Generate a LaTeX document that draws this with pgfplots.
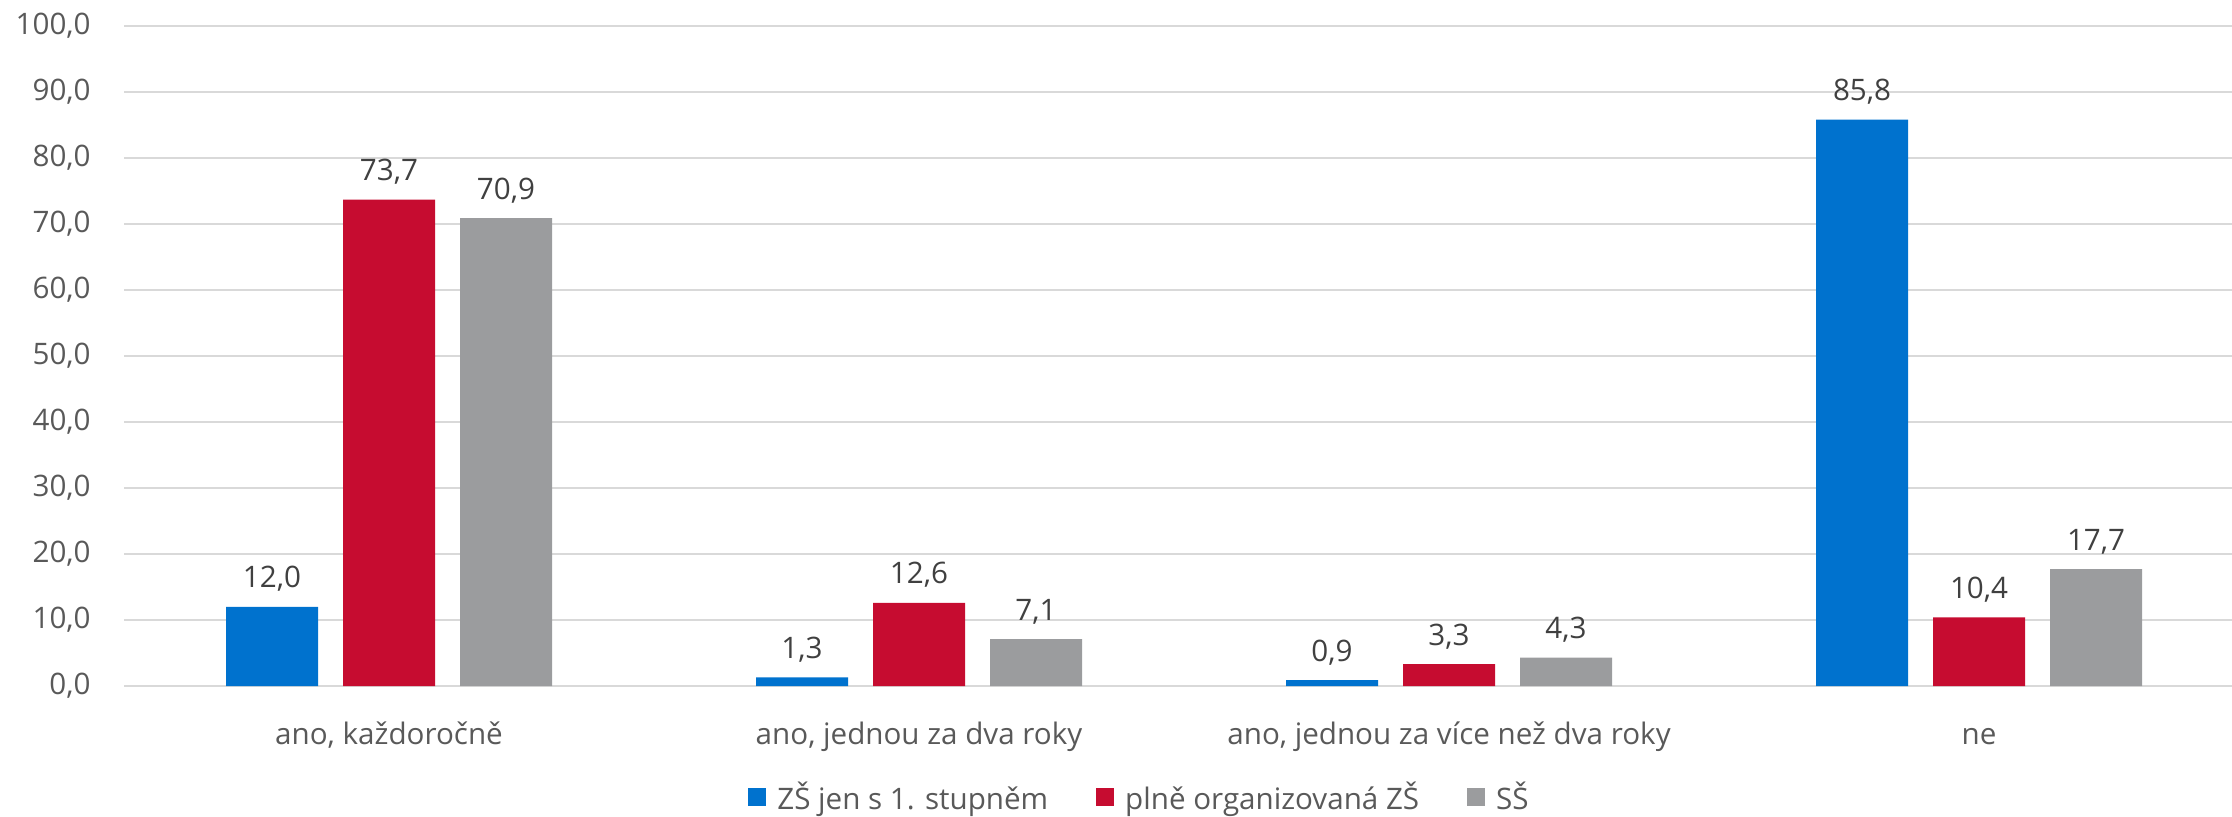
\documentclass[border=0pt]{standalone}
\usepackage{pgfplots}
\pgfplotsset{compat=1.18}
\usepackage{fontspec}
\setmainfont{Open Sans}
\definecolor{cBlue}{RGB}{0,114,206}
\definecolor{cRed}{RGB}{198,12,48}
\definecolor{cGray}{RGB}{155,156,158}
\definecolor{cGrid}{RGB}{217,217,217}
\definecolor{cTick}{RGB}{89,89,89}
\definecolor{cVal}{RGB}{64,64,64}
\newcommand\fs{\fontsize{14.8pt}{17pt}\selectfont}
\begin{document}
\begin{tikzpicture}
\begin{axis}[
  at={(62pt,65pt)}, anchor=south west,
  scale only axis, width=1054pt, height=330pt,
  xmin=-0.5, xmax=3.4774, ymin=0, ymax=100,
  enlargelimits=false,
  ybar=12.5pt, bar width=46pt,
  xtick={0,1,2,3},
  xticklabels={ano{,} každoročně, ano{,} jednou za dva roky, ano{,} jednou za více než dva roky, ne},
  ytick={0,10,...,100},
  ymajorgrids, grid style={cGrid, line width=1pt},
  axis line style={draw=none},
  major tick length=0pt,
  tick label style={font=\fs, text=cTick},
  /pgf/number format/fixed,
  /pgf/number format/fixed zerofill,
  /pgf/number format/precision=1,
  /pgf/number format/use comma,
  /pgf/number format/assume math mode=true,
  yticklabel style={anchor=east, inner sep=0pt, xshift=-16.5pt},
  xticklabel style={anchor=base, inner sep=0pt, yshift=-29pt},
  nodes near coords,
  every node near coord/.append style={font=\fs, text=cVal, anchor=base, inner sep=0pt, yshift=9.5pt},
  legend columns=3,
  legend style={at={(0.2960,-0.1682)}, anchor=west, draw=none, fill=none, inner sep=0pt,
    font=\fs, text=cTick,
    /tikz/every odd column/.append style={column sep=5.5pt},
    /tikz/every even column/.append style={column sep=24pt},
    nodes={inner sep=0pt}},
  legend image code/.code={\draw[#1, draw=none] (0pt,-4.5pt) rectangle (9pt,4.5pt);},
]
\addplot[fill=cBlue, draw=none] coordinates {(0,12.0) (1,1.3) (2,0.9) (3,85.8)};
\addplot[fill=cRed, draw=none] coordinates {(0,73.7) (1,12.6) (2,3.3) (3,10.4)};
\addplot[fill=cGray, draw=none] coordinates {(0,70.9) (1,7.1) (2,4.3) (3,17.7)};
\legend{ZŠ jen s 1. stupněm, plně organizovaná ZŠ, SŠ}
\end{axis}
\pgfresetboundingbox
\useasboundingbox (0,0) rectangle (1116pt,408pt);
\end{tikzpicture}
\end{document}
